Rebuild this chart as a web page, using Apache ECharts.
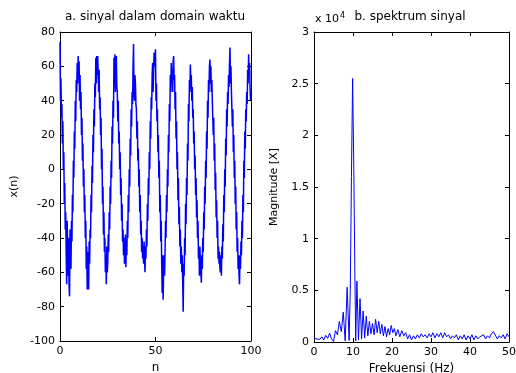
<!DOCTYPE html>
<html><head><meta charset="utf-8">
<script src="https://cdn.jsdelivr.net/npm/echarts@6/dist/echarts.min.js"></script>
<style>html,body{margin:0;padding:0;background:#fff}#c{width:516px;height:373px}</style>
</head><body><div id="c"></div>
<script>
// ---- Left: time-domain signal, sampled every 0.25 in n ----
const N_STEP = 0.25;
const signalX = [
 74,40,53,30,38,15,28,0,10,-20,-8,-35,-25,-50,-67,-30,-45,-62,-40,-68,-74,-35,-50,-58,-30,-42,-15,-25,5,-5,22,12,40,28,52,45,62,50,66,55,
 63,40,55,35,45,20,30,5,15,-10,0,-25,-15,-40,-30,-58,-45,-70,-48,-62,-70,-42,-55,-35,-40,-15,-25,2,-8,20,10,35,25,50,42,65,50,66,55,66,
 65,45,58,35,42,20,30,0,12,-20,-10,-38,-25,-48,-40,-60,-50,-67,-45,-60,-55,-38,-48,-25,-35,-10,-20,5,-5,25,15,40,30,65,50,67,45,62,66,48,
 45,28,40,15,22,0,10,-15,-5,-30,-20,-42,-35,-50,-40,-55,-45,-38,-57,-42,-50,-30,-40,-15,-25,0,-10,18,8,35,25,45,38,60,73,45,40,55,50,38,
 35,18,28,5,12,-10,0,-25,-15,-38,-30,-48,-40,-52,-45,-55,-42,-52,-60,-45,-52,-35,-45,-20,-30,-5,-15,10,0,28,18,42,35,55,62,45,55,68,60,65,
 70,40,50,28,35,10,20,-5,5,-25,-15,-42,-30,-55,-72,-50,-76,-58,-50,-62,-48,-30,-40,-15,-25,0,-10,20,10,38,28,55,45,62,50,58,45,63,66,52,
 55,35,45,18,28,0,10,-18,-5,-32,-22,-45,-35,-55,-45,-60,-50,-65,-83,-55,-62,-40,-50,-20,-32,-5,-15,15,5,38,28,52,45,61,50,55,40,48,30,35,
 15,22,0,8,-15,-5,-28,-18,-40,-30,-52,-45,-62,-45,-55,-60,-66,-50,-58,-40,-48,-25,-35,-10,-20,5,-5,22,12,40,30,52,45,60,64,50,60,45,52,40,
 40,20,30,5,15,-12,-2,-28,-18,-40,-30,-52,-45,-55,-48,-58,-60,-50,-62,-45,-52,-32,-42,-15,-25,0,-10,18,8,35,25,45,38,55,48,62,71,50,60,45,
 45,25,35,10,20,-5,5,-20,-10,-35,-25,-48,-40,-58,-50,-62,-67,-50,-58,-42,-50,-30,-40,-15,-25,5,-5,22,12,35,28,45,38,58,50,67,55,62,48,40
];
const leftXTicks = [0, 50, 100];
const leftYTicks = [-100, -80, -60, -40, -20, 0, 20, 40, 60, 80];

// ---- Right: spectrum ----
const specFreq = [
 0,0.5,1,1.5,2,2.5,3,3.5,4,4.5,5,5.5,6,6.5,7,7.5,8,8.5,9,9.3,9.6,9.9,10.2,10.5,10.7,
 11,11.4,11.8,12.2,12.6,13,13.4,13.8,14.2,14.6,15,15.4,15.8,16.2,16.6,17,17.4,17.8,18.2,18.6,
 19,19.4,19.8,20.2,20.6,21,21.5,22,22.5,23,23.5,24,24.5,25,25.5,26,26.5,27,27.5,28,28.5,
 29,29.5,30,30.5,31,31.5,32,32.5,33,33.5,34,34.5,35,35.5,36,36.5,37,37.5,38,38.5,
 39,39.5,40,40.5,41,41.5,42,42.5,43,43.5,44,44.5,45,45.5,46,46.5,47,47.5,48,48.5,49,49.5,50
];
const specMag = [
 500,300,450,250,500,200,650,350,850,300,50,1100,700,2000,1000,2900,100,5300,150,5000,16000,25500,17000,6000,100,
 5900,200,4200,300,3000,400,2500,600,2000,800,1800,700,2200,900,2000,800,1700,600,1500,500,
 1300,700,1600,900,1300,600,1200,500,1100,600,900,300,700,200,600,300,700,400,800,500,700,400,
 800,500,900,400,800,500,900,400,900,500,700,300,600,400,700,200,600,300,700,200,
 600,300,700,200,600,300,500,400,700,300,600,400,800,1000,1100,300,600,400,700,300,800,500,700
];
const rightXTicks = [0, 10, 20, 30, 40, 50];
const rightYTicks = [0, 0.5, 1, 1.5, 2, 2.5, 3];
const SPEC_SCALE = 1e4;

const FONT = '"DejaVu Sans", sans-serif';
const chart = echarts.init(document.getElementById('c'), null, {renderer: 'canvas'});

const gridBase = {outerBoundsMode: 'none', containLabel: false};
const grids = [
  Object.assign({left: 60, top: 32, width: 191, height: 309}, gridBase),
  Object.assign({left: 314, top: 32, width: 195, height: 310}, gridBase)
];
function axisCommon(showLabel) {
  return {
    axisLine: {show: true, onZero: false, lineStyle: {color: '#000', width: 1}},
    axisTick: {show: true, inside: true, length: 4, lineStyle: {color: '#000'}},
    splitLine: {show: false},
    axisLabel: {show: showLabel, color: '#000', fontFamily: FONT, fontSize: 11, margin: 5}
  };
}
function xAx(gi, min, max, interval, pos, showLabel, name, gap) {
  return Object.assign(axisCommon(showLabel), {
    type: 'value', gridIndex: gi, min, max, interval, position: pos,
    name: name || '', nameLocation: 'middle', nameGap: gap || 0,
    nameTextStyle: {color: '#000', fontFamily: FONT, fontSize: 12}
  });
}
function yAx(gi, min, max, interval, pos, showLabel, name, gap, fmt) {
  const a = Object.assign(axisCommon(showLabel), {
    type: 'value', gridIndex: gi, min, max, interval, position: pos,
    name: name || '', nameLocation: 'middle', nameGap: gap || 0,
    nameTextStyle: {color: '#000', fontFamily: FONT, fontSize: 11}
  });
  if (fmt) a.axisLabel.formatter = fmt;
  return a;
}

const leftData = signalX.map((v, i) => [i * N_STEP, v]);
const rightData = specFreq.map((f, i) => [f, specMag[i]]);

chart.setOption({
  animation: false,
  backgroundColor: '#fff',
  title: [
    {text: 'a. sinyal dalam domain waktu', left: 155, top: 11, textAlign: 'center', padding: 0,
     textStyle: {fontFamily: FONT, fontSize: 12, fontWeight: 'normal', color: '#000'}},
    {text: 'b. spektrum sinyal', left: 410, top: 11, textAlign: 'center', padding: 0,
     textStyle: {fontFamily: FONT, fontSize: 12, fontWeight: 'normal', color: '#000'}}
  ],
  graphic: [{
    type: 'text', left: 315, top: 12,
    style: {text: 'x 10{s|4}', fill: '#000', font: '11px ' + FONT,
      rich: {s: {fontSize: 8, verticalAlign: 'top', padding: [0, 0, 6, 1], fontFamily: FONT}}}
  }],
  grid: grids,
  xAxis: [
    xAx(0, leftXTicks[0], leftXTicks[leftXTicks.length - 1], 50, 'bottom', true, 'n', 19),
    xAx(0, leftXTicks[0], leftXTicks[leftXTicks.length - 1], 50, 'top', false),
    xAx(1, rightXTicks[0], rightXTicks[rightXTicks.length - 1], 10, 'bottom', true, 'Frekuensi (Hz)', 19),
    xAx(1, rightXTicks[0], rightXTicks[rightXTicks.length - 1], 10, 'top', false)
  ],
  yAxis: [
    yAx(0, leftYTicks[0], leftYTicks[leftYTicks.length - 1], 20, 'left', true, 'x(n)', 40),
    yAx(0, leftYTicks[0], leftYTicks[leftYTicks.length - 1], 20, 'right', false),
    yAx(1, rightYTicks[0] * SPEC_SCALE, rightYTicks[rightYTicks.length - 1] * SPEC_SCALE, 0.5 * SPEC_SCALE, 'left', true,
        'Magnitude [X]', 34, v => String(v / SPEC_SCALE)),
    yAx(1, rightYTicks[0] * SPEC_SCALE, rightYTicks[rightYTicks.length - 1] * SPEC_SCALE, 0.5 * SPEC_SCALE, 'right', false)
  ],
  series: [
    {type: 'line', xAxisIndex: 0, yAxisIndex: 0, data: leftData, showSymbol: false, symbol: 'none',
     lineStyle: {color: '#0000ff', width: 1.5}, clip: true},
    {type: 'line', xAxisIndex: 2, yAxisIndex: 2, data: rightData, showSymbol: false, symbol: 'none',
     lineStyle: {color: '#0000ff', width: 1}, clip: true}
  ]
});
</script></body></html>
